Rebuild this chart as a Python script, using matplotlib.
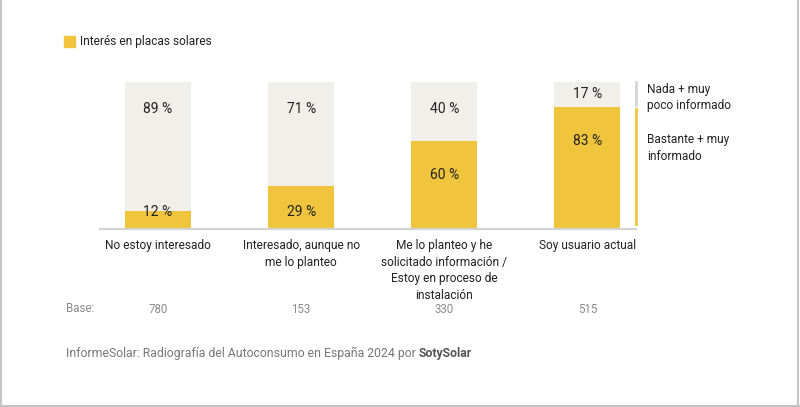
import matplotlib
matplotlib.use("Agg")
import matplotlib.pyplot as plt
from matplotlib.patches import Rectangle
from matplotlib.lines import Line2D

categories = ["No estoy interesado", "Interesado, aunque no\nme lo planteo",
              "Me lo planteo y he\nsolicitado información /\nEstoy en proceso de\ninstalación",
              "Soy usuario actual"]
poco_informado = [89, 71, 40, 17]
bien_informado = [12, 29, 60, 83]
bases = [780, 153, 330, 515]

YELLOW = "#F0C53D"
GREY_BG = "#F1EFEA"
TEXT = "#222222"
FONT = "Roboto"

W, H = 800, 407
fig = plt.figure(figsize=(W / 100, H / 100), dpi=100)
fig.patch.set_facecolor("white")

def fx(px):
    return px / W

def fy(py):
    return 1 - py / H

ax = fig.add_axes([fx(100), fy(229), fx(636) - fx(100), fy(82) - fy(229)])
ax.set_xlim(-0.406, 3.34)
ax.set_ylim(0, 100)
ax.axis("off")

x = list(range(len(categories)))
bw = 0.46
ax.bar(x, [100] * len(x), width=bw, color=GREY_BG, zorder=1)
ax.bar(x, bien_informado, width=bw, color=YELLOW, zorder=2)
ax.plot([-0.406, 3.34], [0, 0], color="#D3D3D3", lw=1.6, clip_on=False, zorder=3)

for xi, g, yv in zip(x, poco_informado, bien_informado):
    gy = max(100 - g / 2, 81.8)
    ax.text(xi, gy, f"{g} %", ha="center", va="center", fontsize=10,
            color=TEXT, family=FONT, zorder=4)
    yy = max(yv - 23, 11.6)
    ax.text(xi, yy, f"{yv} %", ha="center", va="center", fontsize=10,
            color=TEXT, family=FONT, zorder=4)

# category labels
for xi, c in zip(x, categories):
    ax.text(xi, -7, c, ha="center", va="top", fontsize=8.6, color=TEXT,
            family=FONT, linespacing=1.35, transform=ax.transData)

# base row
fig.text(fx(66), fy(309), "Base:", ha="left", va="center", fontsize=8.3,
         color="#8A8A8A", family=FONT)
for xi, b in zip(x, bases):
    ax.text(xi, -54.5, str(b), ha="center", va="center", fontsize=8.3,
            color="#8A8A8A", family=FONT)

# right-side segment legend (aligned with the last bar's split)
last_g = poco_informado[-1]
lx = 3.34
ax.add_line(Line2D([lx, lx], [100, 100 - last_g + 1.5], color="#D6D6D6",
                   lw=2, clip_on=False))
ax.add_line(Line2D([lx, lx], [100 - last_g - 1.5, 3.4], color=YELLOW,
                   lw=2, clip_on=False))
fig.text(fx(647), fy(98), "Nada + muy\npoco informado", ha="left", va="center",
         fontsize=8.6, color=TEXT, family=FONT, linespacing=1.3)
fig.text(fx(647), fy(148), "Bastante + muy\ninformado", ha="left", va="center",
         fontsize=8.6, color=TEXT, family=FONT, linespacing=1.3)

# top legend
fig.patches.append(Rectangle((fx(64), fy(47)), fx(11), fy(36) - fy(47),
                             transform=fig.transFigure, color=YELLOW))
fig.text(fx(80), fy(41.5), "Interés en placas solares", ha="left", va="center",
         fontsize=8.6, color=TEXT, family=FONT)

# footer
t = fig.text(fx(66), fy(353), "InformeSolar: Radiografía del Autoconsumo en España 2024 por ",
             ha="left", va="center", fontsize=8.8, color="#777777", family=FONT)
fig.canvas.draw()
bb = t.get_window_extent()
fig.text(bb.x1 / W, fy(353), "SotySolar", ha="left", va="center", fontsize=8.8,
         color="#555555", family=FONT, fontweight="bold")

# frame (left, right, bottom)
fc = "#C4C4C4"
fig.add_artist(Line2D([0.001, 0.001], [0, 1], color=fc, lw=1.5, transform=fig.transFigure))
fig.add_artist(Line2D([0.998, 0.998], [0, 1], color=fc, lw=1.5, transform=fig.transFigure))
fig.add_artist(Line2D([0, 1], [0.003, 0.003], color=fc, lw=1.5, transform=fig.transFigure))

fig.savefig("out.png", dpi=100, facecolor="white")
